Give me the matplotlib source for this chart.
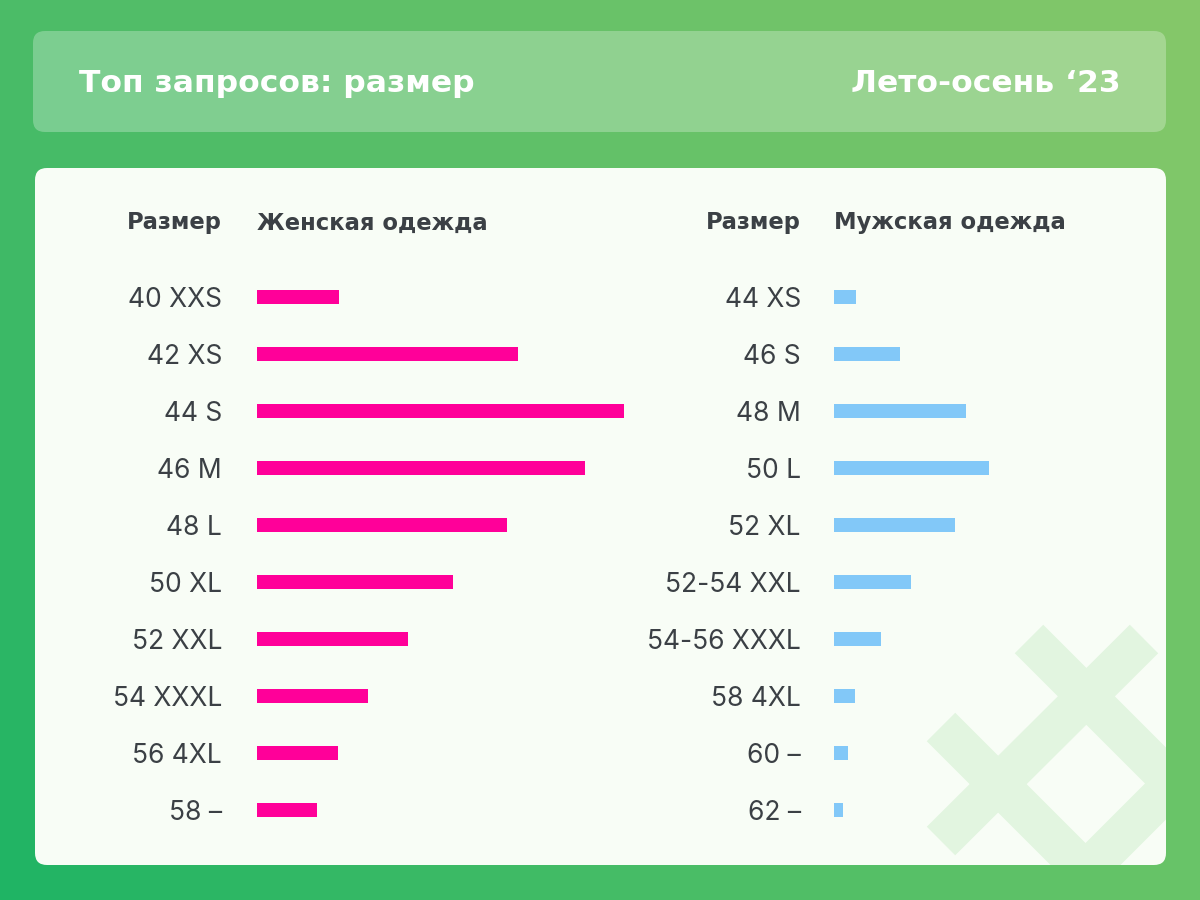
import numpy as np
import matplotlib.pyplot as plt
from matplotlib.patches import FancyBboxPatch

plt.rcParams['font.family'] = ['Inter', 'DejaVu Sans']

title = "Топ запросов: размер"
season = "Лето-осень ‘23"
size_header = "Размер"
women_header = "Женская одежда"
men_header = "Мужская одежда"

women_sizes = ["40 XXS", "42 XS", "44 S", "46 M", "48 L",
               "50 XL", "52 XXL", "54 XXXL", "56 4XL", "58 –"]
women_values = [82, 261, 367, 328, 250, 196, 151, 111, 81, 60]

men_sizes = ["44 XS", "46 S", "48 M", "50 L", "52 XL",
             "52-54 XXL", "54-56 XXXL", "58 4XL", "60 –", "62 –"]
men_values = [22, 66, 132, 155, 121, 77, 47, 21, 14, 9]

TEXT = '#3b4045'
PINK = '#ff0099'
BLUE = '#82c8f8'
CARD = '#f8fdf6'
DECOR = '#e2f5e0'
BOLD = ['DejaVu Sans']

fig = plt.figure(figsize=(12, 9), dpi=100)
bg = fig.add_axes([0, 0, 1, 1])
bg.set_xlim(0, 1200)
bg.set_ylim(900, 0)
bg.axis('off')

# background gradient from corner colours
tl = np.array([76, 188, 104]) / 255
tr = np.array([134, 200, 106]) / 255
bl = np.array([31, 180, 100]) / 255
br = np.array([104, 196, 104]) / 255
u = np.linspace(0, 1, 120)[None, :, None]
v = np.linspace(0, 1, 90)[:, None, None]
grad = (1 - v) * ((1 - u) * tl + u * tr) + v * ((1 - u) * bl + u * br)
bg.imshow(grad, extent=(0, 1200, 900, 0), aspect='auto', zorder=0)

# header strip
header = FancyBboxPatch((33, 31), 1133, 101, boxstyle='round,pad=0,rounding_size=12',
                        fc='white', ec='none', alpha=0.27, zorder=1)
bg.add_patch(header)
bg.text(79, 83, title, color='white', fontsize=22.6, fontweight='bold', family=BOLD,
        ha='left', va='center', zorder=2)
bg.text(1121, 83, season, color='white', fontsize=22.6, fontweight='bold', family=BOLD,
        ha='right', va='center', zorder=2)

# white card
card = FancyBboxPatch((35, 168), 1131, 697, boxstyle='round,pad=0,rounding_size=12',
                      fc=CARD, ec='none', zorder=1)
bg.add_patch(card)

# decoration in the lower right corner
segments = [((1029, 639), (1260, 870)),
            ((1144, 639), (941, 841)),
            ((941, 727), (1160, 946)),
            ((1040, 917), (1280, 677))]
for (x0, y0), (x1, y1) in segments:
    ln, = bg.plot([x0, x1], [y0, y1], color=DECOR, lw=29, solid_capstyle='butt', zorder=2)
    ln.set_clip_path(card)

# column headers
for x_size, x_name, name in [(222, 257, women_header), (801, 834, men_header)]:
    bg.text(x_size, 223, size_header, color=TEXT, fontsize=16.3, fontweight='bold',
            family=BOLD, ha='right', va='center', zorder=3)
    bg.text(x_name, 223, name, color=TEXT, fontsize=16.3, fontweight='bold',
            family=BOLD, ha='left', va='center', zorder=3)


def bar_panel(left_px, sizes, values, color, pad_px):
    n = len(sizes)
    top_px = 297 - 28.5
    height_px = 57 * n
    width_px = 380
    ax = fig.add_axes([left_px / 1200, 1 - (top_px + height_px) / 900,
                       width_px / 1200, height_px / 900])
    ax.patch.set_alpha(0)
    y = np.arange(n)
    ax.barh(y, values, height=13.5 / 57, color=color, zorder=3)
    ax.set_xlim(0, width_px)
    ax.set_ylim(n - 0.5, -0.5)
    ax.set_yticks(y, sizes)
    ax.set_xticks([])
    ax.tick_params(axis='y', length=0, pad=pad_px * 0.72, labelsize=19, labelcolor=TEXT)
    for s in ax.spines.values():
        s.set_visible(False)
    return ax


bar_panel(257, women_sizes, women_values, PINK, 35)
bar_panel(834, men_sizes, men_values, BLUE, 33)

fig.savefig('out.png', dpi=100)
